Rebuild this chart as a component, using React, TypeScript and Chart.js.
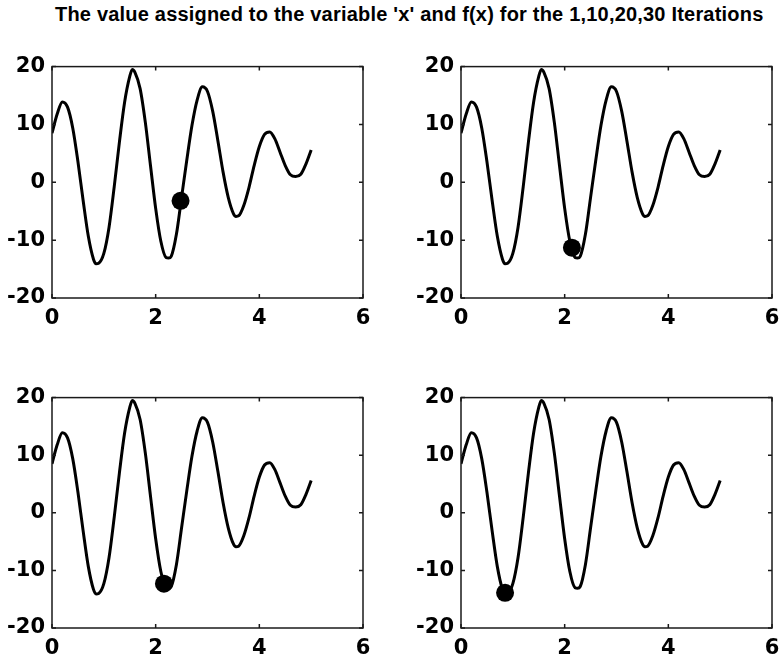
import React, { useEffect, useRef } from "react";
import { Chart, registerables } from "chart.js";

Chart.register(...registerables);

const TITLE = "The value assigned to the variable 'x' and f(x) for the 1,10,20,30 Iterations";

const xValues = [0, 0.1, 0.2, 0.3, 0.4, 0.5, 0.6, 0.7, 0.8, 0.85, 0.9, 1.0, 1.1, 1.2, 1.3, 1.4, 1.5, 1.55, 1.6, 1.7, 1.8, 1.9, 2.0, 2.1, 2.2, 2.25, 2.3, 2.4, 2.5, 2.6, 2.7, 2.8, 2.9, 3.0, 3.1, 3.2, 3.3, 3.4, 3.5, 3.55, 3.6, 3.7, 3.8, 3.9, 4.0, 4.1, 4.2, 4.3, 4.4, 4.5, 4.6, 4.7, 4.8, 4.9, 5.0];
const fValues = [8.5, 11.8, 13.9, 13.0, 9.4, 3.6, -3.1, -9.3, -13.3, -14.1, -14.0, -12.3, -7.8, -0.8, 6.9, 13.8, 18.3, 19.5, 19.0, 16.2, 10.4, 2.9, -4.5, -10.2, -13.0, -13.1, -12.8, -9.0, -2.6, 3.8, 9.8, 14.2, 16.5, 15.7, 12.3, 7.2, 1.8, -2.6, -5.4, -5.9, -5.8, -4.0, -0.9, 2.9, 6.2, 8.3, 8.7, 7.5, 5.2, 2.9, 1.3, 1.0, 1.4, 3.2, 5.6];

// best individual at iterations 1, 10, 20, 30
const iterationX = [2.48, 2.14, 2.16, 0.85];
const iterationF = [-3.2, -11.3, -12.3, -13.9];

const xTicks = [0, 2, 4, 6];
const yTicks = [-20, -10, 0, 10, 20];

const PANELS = [
  { left: 52, top: 61, height: 237 },
  { left: 461, top: 61, height: 237 },
  { left: 52, top: 392, height: 236 },
  { left: 461, top: 392, height: 236 },
];
const PLOT_W = 311;
const YAXIS_W = 52;
const PAD_TOP = 14;
const PAD_RIGHT = 20;
const XAXIS_H = 34;

const tickFont = { family: "'DejaVu Sans', sans-serif", size: 21, weight: "bold" as const };

const boxPlugin = {
  id: "matlabBox",
  afterDraw(chart: any) {
    const { ctx, chartArea: a, scales } = chart;
    ctx.save();
    ctx.strokeStyle = "#1a1a1a";
    ctx.lineWidth = 1.5;
    ctx.strokeRect(a.left, a.top, a.right - a.left, a.bottom - a.top);
    const tl = 4;
    ctx.beginPath();
    for (const v of xTicks) {
      const px = scales.x.getPixelForValue(v);
      ctx.moveTo(px, a.bottom);
      ctx.lineTo(px, a.bottom - tl);
      ctx.moveTo(px, a.top);
      ctx.lineTo(px, a.top + tl);
    }
    for (const v of yTicks) {
      const py = scales.y.getPixelForValue(v);
      ctx.moveTo(a.left, py);
      ctx.lineTo(a.left + tl, py);
      ctx.moveTo(a.right, py);
      ctx.lineTo(a.right - tl, py);
    }
    ctx.stroke();
    ctx.restore();
  },
};

function Panel({ idx, left, top, height }: { idx: number; left: number; top: number; height: number }) {
  const ref = useRef<HTMLCanvasElement>(null);
  const cw = YAXIS_W + PLOT_W + PAD_RIGHT;
  const ch = PAD_TOP + height + XAXIS_H;
  useEffect(() => {
    const canvas = ref.current!;
    const chart = new Chart(canvas, {
      type: "scatter",
      data: {
        datasets: [
          {
            data: [{ x: iterationX[idx], y: iterationF[idx] }],
            pointRadius: 9,
            pointBackgroundColor: "#000",
            pointBorderColor: "#000",
            borderWidth: 0,
            showLine: false,
          },
          {
            data: xValues.map((x, i) => ({ x, y: fValues[i] })),
            showLine: true,
            pointRadius: 0,
            borderColor: "#000",
            borderWidth: 3,
            cubicInterpolationMode: "monotone",
            fill: false,
          },
        ],
      },
      options: {
        animation: false,
        responsive: false,
        events: [],
        layout: { padding: { top: PAD_TOP, right: PAD_RIGHT, left: 0, bottom: 0 } },
        plugins: { legend: { display: false }, tooltip: { enabled: false }, title: { display: false } },
        scales: {
          x: {
            type: "linear",
            min: 0,
            max: 6,
            afterBuildTicks: (s: any) => {
              s.ticks = xTicks.map((v) => ({ value: v }));
            },
            afterFit: (s: any) => {
              s.height = XAXIS_H;
            },
            grid: { display: false, drawTicks: false },
            border: { display: false },
            ticks: { padding: 8, color: "#000", font: tickFont, maxRotation: 0, autoSkip: false },
          },
          y: {
            type: "linear",
            min: -20,
            max: 20,
            afterBuildTicks: (s: any) => {
              s.ticks = yTicks.map((v) => ({ value: v }));
            },
            afterFit: (s: any) => {
              s.width = YAXIS_W;
            },
            grid: { display: false, drawTicks: false },
            border: { display: false },
            ticks: { padding: 7, color: "#000", font: tickFont, autoSkip: false },
          },
        },
      } as any,
      plugins: [boxPlugin],
    });
    return () => chart.destroy();
  }, [idx]);
  return (
    <canvas
      ref={ref}
      width={cw}
      height={ch}
      style={{ position: "absolute", left: left - YAXIS_W, top: top - PAD_TOP, width: cw, height: ch }}
    />
  );
}

export default function App() {
  return (
    <div
      style={{
        position: "absolute",
        left: 0,
        top: 0,
        width: 783,
        height: 664,
        background: "#fff",
        overflow: "hidden",
      }}
    >
      <div
        style={{
          position: "absolute",
          left: 55,
          top: 4,
          font: "bold 20px 'Liberation Sans', Arial, sans-serif",
          lineHeight: "20px",
          letterSpacing: "0.2px",
          whiteSpace: "nowrap",
          color: "#000",
        }}
      >
        {TITLE}
      </div>
      {PANELS.map((p, i) => (
        <Panel key={i} idx={i} left={p.left} top={p.top} height={p.height} />
      ))}
    </div>
  );
}
